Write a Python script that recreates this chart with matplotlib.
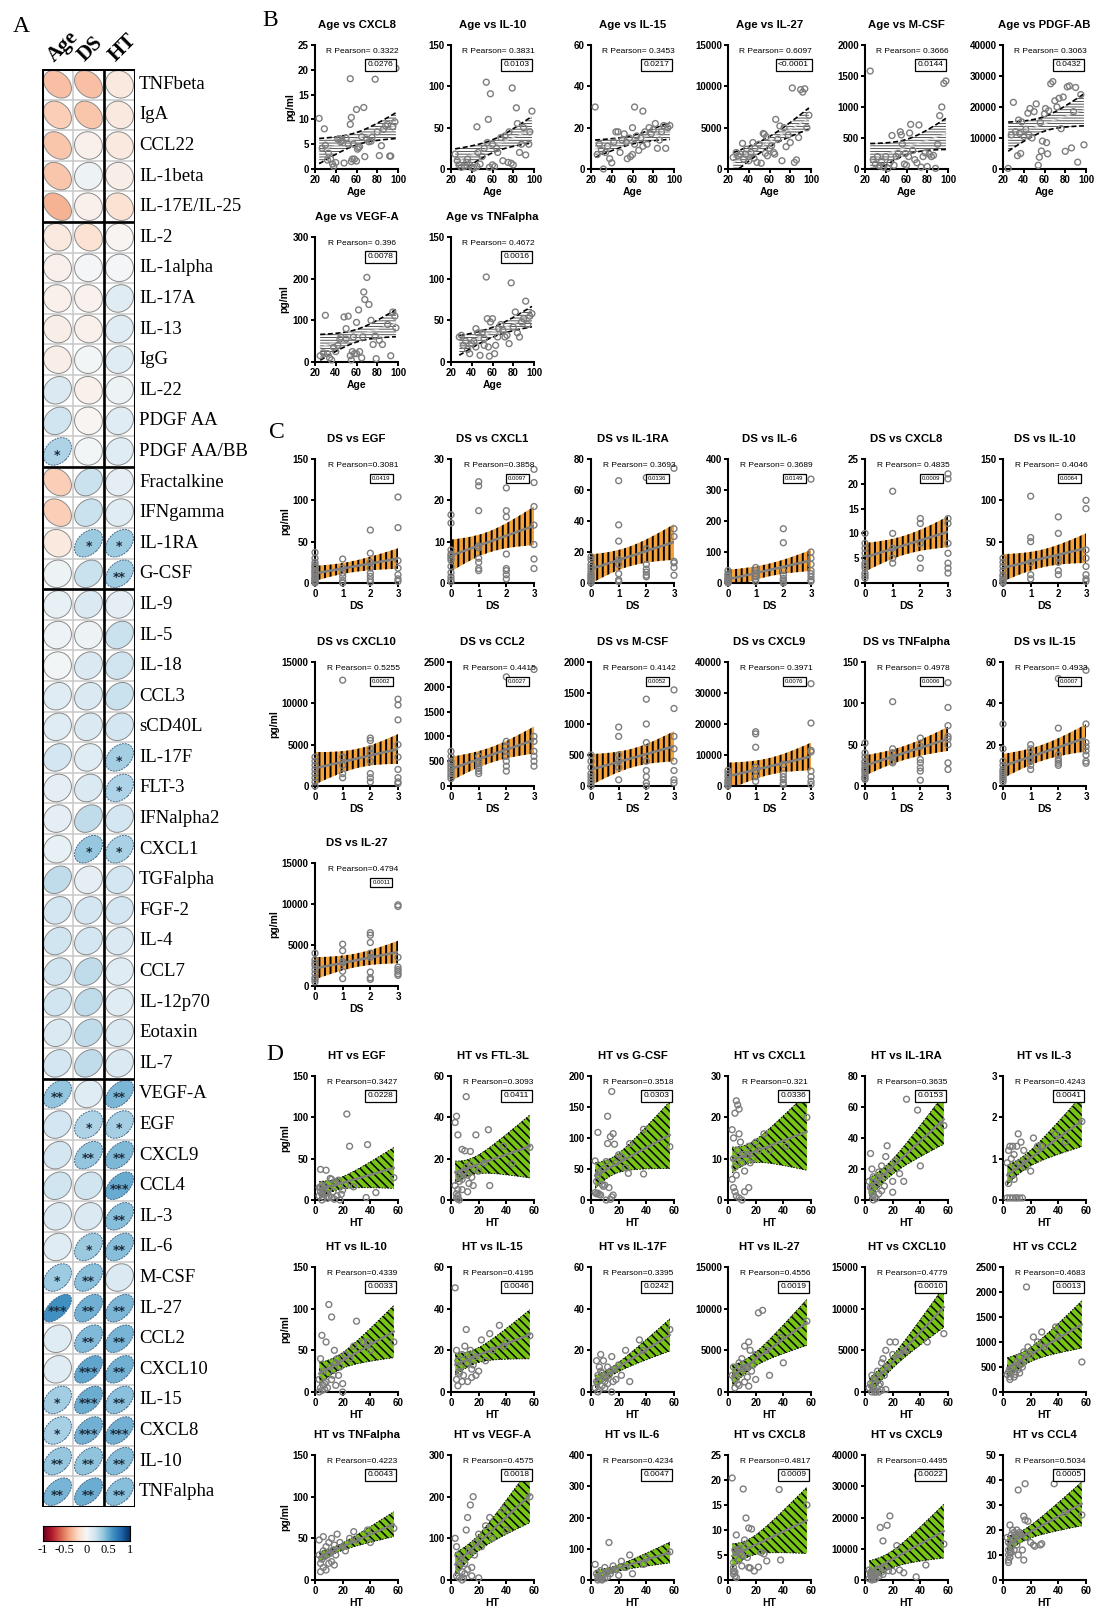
import numpy as np
import matplotlib
matplotlib.use("Agg")
import matplotlib.pyplot as plt
from matplotlib.patches import Ellipse
from matplotlib.colors import Normalize

W, H = 1094, 1609
SANS = "Liberation Sans"
SERIF = "Liberation Serif"

# ------------------------------------------------------------
# panel A : correlation matrix
# ------------------------------------------------------------
cytokines = ["TNFbeta", "IgA", "CCL22", "IL-1beta", "IL-17E/IL-25",
             "IL-2", "IL-1alpha", "IL-17A", "IL-13", "IgG", "IL-22", "PDGF AA", "PDGF AA/BB",
             "Fractalkine", "IFNgamma", "IL-1RA", "G-CSF",
             "IL-9", "IL-5", "IL-18", "CCL3", "sCD40L", "IL-17F", "FLT-3", "IFNalpha2",
             "CXCL1", "TGFalpha", "FGF-2", "IL-4", "CCL7", "IL-12p70", "Eotaxin", "IL-7",
             "VEGF-A", "EGF", "CXCL9", "CCL4", "IL-3", "IL-6", "M-CSF", "IL-27", "CCL2",
             "CXCL10", "IL-15", "CXCL8", "IL-10", "TNFalpha"]
matrix_cols = ["Age", "DS", "HT"]

r_age = [-0.30, -0.25, -0.28, -0.28, -0.35,
         -0.10, -0.05, -0.05, -0.07, -0.07, 0.15, 0.20, 0.3063,
         -0.25, -0.25, -0.10, 0.05,
         0.08, 0.06, 0.03, 0.12, 0.12, 0.18, 0.10, 0.10,
         0.08, 0.25, 0.18, 0.20, 0.20, 0.20, 0.15, 0.18,
         0.396, 0.18, 0.18, 0.20, 0.15, 0.12, 0.3666, 0.6097, 0.12,
         0.12, 0.3453, 0.3322, 0.3831, 0.4672]
r_ds = [-0.30, -0.28, -0.05, 0.05, -0.05,
        -0.15, 0.02, -0.04, -0.05, 0.03, -0.05, -0.02, 0.03,
        0.22, 0.22, 0.3693, 0.22,
        0.15, 0.05, 0.15, 0.15, 0.15, 0.12, 0.15, 0.25,
        0.3858, 0.10, 0.18, 0.18, 0.25, 0.25, 0.25, 0.25,
        0.12, 0.3081, 0.3971, 0.20, 0.15, 0.3689, 0.4142, 0.4794, 0.4415,
        0.5255, 0.4933, 0.4835, 0.4046, 0.4978]
r_ht = [-0.10, -0.10, -0.10, -0.07, -0.15,
        -0.02, 0.02, 0.12, 0.12, 0.12, 0.05, 0.12, 0.12,
        0.10, 0.12, 0.3635, 0.3518,
        0.10, 0.22, 0.20, 0.22, 0.18, 0.3395, 0.3093, 0.18,
        0.321, 0.18, 0.18, 0.15, 0.12, 0.12, 0.15, 0.15,
        0.4575, 0.3427, 0.4495, 0.5034, 0.4243, 0.4234, 0.15, 0.4556, 0.4683,
        0.4779, 0.4195, 0.4817, 0.4339, 0.4223]

stars_age = {"PDGF AA/BB": "*", "VEGF-A": "**", "M-CSF": "*", "IL-27": "***",
             "IL-15": "*", "CXCL8": "*", "IL-10": "**", "TNFalpha": "**"}
stars_ds = {"IL-1RA": "*", "CXCL1": "*", "EGF": "*", "CXCL9": "**", "IL-6": "*",
            "M-CSF": "**", "IL-27": "**", "CCL2": "**", "CXCL10": "***", "IL-15": "***",
            "CXCL8": "***", "IL-10": "**", "TNFalpha": "**"}
stars_ht = {"IL-1RA": "*", "G-CSF": "**", "IL-17F": "*", "FLT-3": "*", "CXCL1": "*",
            "VEGF-A": "**", "EGF": "*", "CXCL9": "**", "CCL4": "***", "IL-3": "**",
            "IL-6": "**", "IL-27": "**", "CCL2": "**", "CXCL10": "**", "IL-15": "**",
            "CXCL8": "***", "IL-10": "**", "TNFalpha": "**"}
group_breaks = [5, 13, 17, 33]
cbar_ticks = [-1, -0.5, 0, 0.5, 1]

# ------------------------------------------------------------
# panel B : age (x) vs concentration (y)
# ------------------------------------------------------------
age_cxcl8 = [(24, 10.2), (29, 8.1), (54, 18.2), (78, 18.1), (55, 10.4), (54, 9.0), (60, 12.0),
             (67, 12.4), (30, 4.8), (33, 3.2), (35, 2.0), (37, 1.0), (38, 0.5), (40, 1.3),
             (42, 6.0), (45, 5.5), (48, 1.2), (50, 6.2), (52, 5.0), (55, 1.5), (56, 2.0),
             (58, 2.0), (60, 1.6), (61, 4.0), (63, 4.5), (65, 6.5), (68, 2.5), (70, 6.0),
             (72, 5.5), (75, 6.4), (80, 7.5), (82, 2.7), (84, 4.7), (86, 8.0), (90, 9.0),
             (92, 2.6), (93, 2.6), (95, 8.5), (97, 9.5), (98, 20.3), (27, 4.2), (32, 1.8),
             (44, 6.1), (46, 5.8), (57, 5.0), (62, 4.3), (74, 5.6), (88, 8.7)]
age_il10 = [(24, 18), (45, 51), (54, 105), (56, 60), (58, 91), (79, 98), (83, 74), (98, 70),
            (84, 55), (55, 32), (60, 30), (65, 20), (70, 10), (75, 8), (78, 7), (80, 5),
            (86, 20), (92, 17), (95, 30), (28, 5), (30, 2), (33, 3), (35, 8), (38, 5), (40, 2),
            (42, 1), (45, 3), (48, 6), (50, 15), (52, 25), (57, 2), (60, 5), (62, 3), (64, 25),
            (68, 38), (72, 40), (76, 45), (88, 30), (90, 50), (96, 45), (26, 10), (36, 12),
            (46, 20)]
age_il15 = [(24, 30), (62, 30), (70, 28), (60, 20), (30, 9), (32, 0), (34, 8), (36, 11),
            (38, 5), (40, 3), (42, 13), (44, 18), (46, 18), (48, 8), (50, 14), (52, 17),
            (54, 13), (55, 5), (57, 15), (58, 6), (60, 7), (62, 12), (64, 16), (66, 9),
            (68, 15), (70, 11), (72, 18), (74, 12), (76, 20), (78, 17), (80, 19), (82, 22),
            (84, 10), (86, 14), (88, 18), (90, 21), (92, 10), (94, 20), (96, 21), (28, 12),
            (26, 7)]
age_il27 = [(25, 1400), (28, 2000), (30, 1600), (32, 1800), (34, 3100), (35, 1200),
            (37, 1800), (38, 2400), (40, 1000), (42, 2000), (44, 3200), (46, 2500), (48, 800),
            (50, 3000), (52, 700), (54, 4300), (55, 4200), (56, 1900), (57, 3900), (58, 1600),
            (60, 2500), (62, 2800), (64, 2000), (65, 1800), (66, 6000), (68, 3600), (70, 5200),
            (72, 1000), (74, 5000), (76, 2700), (78, 4100), (80, 3200), (82, 9800), (84, 800),
            (86, 1100), (88, 3800), (90, 9600), (92, 9300), (94, 9700), (96, 5000), (98, 6500),
            (45, 1300)]
age_mcsf = [(25, 1580), (96, 1380), (98, 1420), (94, 1000), (92, 860), (28, 150), (30, 80),
            (32, 200), (34, 50), (36, 120), (38, 30), (40, 200), (42, 10), (44, 100), (46, 540),
            (48, 60), (50, 200), (52, 250), (54, 600), (55, 550), (56, 400), (58, 80), (60, 60),
            (62, 200), (64, 720), (66, 300), (68, 150), (70, 100), (72, 710), (74, 30),
            (76, 200), (78, 260), (80, 40), (82, 240), (84, 200), (86, 220), (88, 10),
            (90, 400), (59, 250), (63, 580)]
age_pdgfab = [(25, 200), (28, 11000), (30, 21500), (32, 12000), (34, 4300), (35, 15800),
              (37, 5000), (38, 15200), (40, 10500), (42, 12800), (44, 18000), (46, 19500),
              (48, 10000), (50, 18500), (52, 21000), (54, 1200), (55, 3800), (56, 15000),
              (57, 5800), (58, 9000), (60, 17800), (61, 19500), (62, 8500), (63, 4900),
              (64, 18800), (66, 27500), (68, 28200), (70, 22000), (72, 20000), (74, 22800),
              (76, 13000), (78, 23200), (80, 5700), (82, 26500), (84, 26800), (86, 6800),
              (88, 18500), (90, 26300), (92, 2200), (95, 24000), (98, 7800), (45, 11000),
              (36, 11500)]
age_vegfa = [(25, 15), (28, 22), (30, 112), (32, 20), (34, 10), (36, 5), (38, 35), (40, 25),
             (42, 40), (45, 60), (48, 108), (50, 80), (52, 110), (54, 15), (55, 5), (56, 25),
             (57, 60), (58, 20), (60, 95), (62, 125), (63, 25), (65, 10), (66, 60), (67, 168),
             (68, 150), (70, 203), (72, 138), (74, 100), (76, 42), (78, 62), (79, 8), (82, 52),
             (85, 42), (90, 90), (93, 15), (95, 120), (97, 110), (98, 82), (44, 55), (50, 55),
             (60, 20)]
age_tnfa = [(28, 30), (30, 32), (32, 20), (34, 25), (36, 15), (38, 10), (40, 22), (42, 25),
            (44, 40), (46, 35), (48, 8), (50, 35), (52, 28), (54, 102), (55, 52), (56, 18),
            (57, 7), (58, 48), (60, 52), (62, 10), (63, 20), (65, 30), (66, 40), (68, 45),
            (70, 38), (72, 30), (74, 32), (76, 22), (78, 95), (80, 42), (82, 60), (84, 35),
            (86, 30), (88, 48), (90, 52), (92, 73), (94, 45), (96, 55), (98, 58), (44, 18),
            (52, 20)]

# ------------------------------------------------------------
# panel C : values listed per DS level 0, 1, 2, 3
# ------------------------------------------------------------
ds_egf = [[37, 30, 25, 20, 18, 15, 12, 10, 8, 6, 5, 3, 2, 1, 0, 22, 14],
          [29, 18, 12, 8, 3, 0], [64, 36, 25, 18, 12, 8, 4, 1], [104, 67, 27, 18, 10, 5, 2]]
ds_cxcl1 = [[16.5, 14.5, 8, 7, 6, 4, 2.5, 1.5, 0.8, 0.3, 6.5, 5.5],
            [24.5, 23.5, 17.5, 9, 8.5, 6, 5, 3.5, 3], [23, 17.5, 16, 7, 3.5, 3, 2, 1],
            [27.5, 24.3, 18.5, 14, 9.3, 5.8, 3.5]]
ds_il1ra = [[17, 15, 12, 10, 8, 6, 5, 4, 3, 2, 1, 0], [66, 37.5, 27, 15, 12, 6, 2, 1],
            [68, 22, 12, 9, 7, 5, 4], [74, 35, 30, 14, 13, 10, 5]]
ds_il6 = [[40, 30, 25, 20, 15, 12, 10, 8, 5, 3, 2, 0], [50, 40, 30, 20, 12, 5],
          [175, 130, 40, 25, 15, 10, 5, 0], [335, 100, 80, 60, 40, 30, 20, 10, 5]]
ds_cxcl8 = [[10, 8, 7, 6, 5, 4, 3.5, 3, 2, 1.5, 1], [18.5, 10, 7, 5, 4],
            [13, 12, 8, 5, 3], [22, 21, 13, 12, 8, 6, 4, 3, 2]]
ds_il10 = [[30, 25, 20, 15, 10, 8, 5, 3, 2, 0], [105, 55, 50, 25, 10, 5],
           [80, 60, 30, 25, 15, 10], [100, 90, 40, 30, 20, 10, 5, 2]]
ds_cxcl10 = [[3500, 3000, 2500, 2000, 1500, 1000, 500, 0], [12800, 3500, 2500, 1500, 1000],
             [5800, 5500, 4500, 4000, 3000, 1500, 1000, 500],
             [10500, 9800, 8000, 5000, 3500, 2000, 1000, 500, 300]]
ds_ccl2 = [[700, 600, 500, 450, 400, 350, 300, 250, 200, 150],
           [600, 500, 450, 400, 350, 300, 250], [2200, 900, 800, 700, 600, 500, 400, 300],
           [2350, 1000, 900, 700, 600, 500, 400]]
ds_mcsf = [[500, 400, 300, 200, 150, 100, 50, 0], [950, 800, 500, 400, 300, 100],
           [1400, 1000, 700, 400, 250, 150, 50, 0], [1550, 1250, 800, 600, 400, 250, 100, 50]]
ds_cxcl9 = [[5000, 4000, 3000, 2000, 1500, 1000, 500, 0],
            [17500, 16800, 12500, 6000, 5000, 3000, 1500], [7000, 4000, 3000, 2000, 1000, 500],
            [33000, 20300, 11500, 11000, 4800, 3000, 1500, 500]]
ds_tnfa = [[52, 40, 35, 30, 28, 25, 22, 20, 18, 15, 12, 10, 8], [102, 45, 40, 35, 30, 28],
           [58, 48, 32, 28, 22, 18, 7], [125, 95, 73, 60, 57, 50, 28, 20]]
ds_il15 = [[30, 18, 12, 10, 8, 7, 6, 5, 4, 3, 2], [20, 18, 15, 13, 12, 10, 8],
           [52, 28, 15, 13, 12, 11, 10], [56, 30, 21, 19, 17, 15, 12, 11]]
ds_il27 = [[4000, 3200, 2800, 2500, 2000, 1500, 1000, 800, 500],
           [5100, 4300, 3000, 2800, 1800, 900], [6500, 6200, 5300, 4000, 3500, 1700, 1000, 800],
           [9900, 9700, 3500, 2300, 2000, 1800, 1500, 1300]]

# ------------------------------------------------------------
# panel D : HT (x) vs concentration (y)
# ------------------------------------------------------------
ht_egf = [(4, 37), (8, 36), (23, 104), (25, 65), (38, 67), (57, 27), (37, 3), (44, 9), (3, 5),
          (4, 10), (4, 15), (5, 18), (5, 7), (6, 12), (6, 3), (7, 17), (8, 8), (9, 2), (10, 14),
          (11, 26), (12, 25), (13, 10), (14, 20), (15, 22), (16, 5), (17, 24), (18, 0), (19, 7),
          (20, 12), (22, 18), (28, 16), (5, 0), (3, 15), (12, 3), (14, 1), (10, 4)]
ht_ftl3l = [(3, 37.5), (4, 40.5), (5, 31.5), (11, 50), (8, 24.5), (10, 23.8), (14, 23.5),
            (18, 31.5), (27, 34), (28, 7), (44, 17.5), (57, 25.5), (3, 7), (4, 3), (4, 1),
            (5, 2), (5, 5), (6, 9), (6, 12), (7, 11), (8, 5), (9, 13), (10, 14), (11, 16),
            (12, 4), (13, 8), (14, 17), (15, 11), (16, 7), (17, 15), (20, 14), (24, 18),
            (38, 26), (6, 0), (5, 0.5), (8, 10), (12, 12)]
ht_gcsf = [(3, 63), (5, 109), (12, 135), (15, 175), (14, 102), (16, 107), (12, 91), (17, 90),
           (27, 43), (38, 114), (38, 42), (57, 86), (3, 12), (4, 10), (5, 11), (6, 9), (7, 8),
           (8, 25), (9, 22), (10, 24), (11, 62), (13, 20), (15, 5), (16, 8), (14, 1), (11, 0),
           (20, 73), (22, 70), (25, 52), (28, 91), (18, 60), (5, 40), (4, 30), (6, 45), (9, 50)]
ht_cxcl1 = [(3, 17), (4, 15), (5, 21), (6, 24), (7, 23), (8, 22), (4, 10), (5, 8), (6, 6),
            (7, 12), (3, 5), (4, 3), (5, 2), (6, 1), (8, 0.5), (9, 14), (10, 9), (11, 11),
            (12, 7), (14, 11), (15, 13), (16, 9), (18, 10), (20, 14), (22, 12), (26, 16),
            (30, 12), (15, 3), (12, 2), (10, 0), (42, 13), (57, 20), (8, 16)]
ht_il1ra = [(4, 30), (5, 20), (6, 15), (3, 12), (4, 8), (5, 5), (6, 3), (7, 2), (8, 10),
            (9, 13), (10, 18), (12, 22), (14, 15), (15, 28), (16, 35), (18, 20), (20, 12),
            (22, 25), (25, 17), (28, 12), (30, 65), (38, 58), (40, 22), (57, 48), (10, 4),
            (12, 6), (6, 0), (14, 9), (8, 1), (20, 5)]
ht_il3 = [(3, 0.9), (4, 1.2), (5, 1.3), (6, 1.0), (7, 1.3), (8, 1.1), (9, 0.8), (10, 1.3),
          (3, 0.05), (5, 0.05), (7, 0.05), (9, 0.05), (10, 0.05), (12, 0.05), (14, 0.05),
          (4, 0.4), (6, 0.6), (8, 0.5), (11, 1.6), (13, 1.4), (15, 1.2), (17, 1.0), (20, 0.7),
          (22, 1.5), (25, 1.3), (28, 1.3), (38, 1.6), (45, 1.4), (57, 1.9), (12, 0.9), (16, 0.8)]
ht_il10 = [(3, 15), (4, 40), (5, 68), (6, 25), (7, 10), (8, 60), (9, 5), (10, 105), (11, 30),
           (12, 90), (13, 20), (14, 50), (15, 35), (16, 40), (17, 20), (18, 30), (20, 10),
           (22, 45), (25, 40), (28, 55), (38, 60), (40, 50), (57, 60), (3, 0), (4, 5), (5, 2),
           (6, 8), (7, 3), (8, 12), (12, 15), (15, 8), (20, 0), (30, 85), (35, 60)]
ht_il15 = [(3, 50), (4, 20), (5, 15), (6, 10), (7, 12), (8, 18), (9, 8), (10, 22), (11, 30),
           (12, 14), (13, 16), (14, 20), (15, 11), (16, 13), (18, 17), (20, 10), (22, 25),
           (25, 15), (28, 28), (30, 20), (35, 32), (38, 22), (40, 24), (57, 27), (4, 6),
           (5, 3), (6, 9), (8, 5), (12, 5), (15, 7), (18, 8)]
ht_il17f = [(3, 2), (4, 5), (5, 8), (6, 12), (7, 10), (8, 9), (9, 15), (10, 5), (11, 7),
            (12, 12), (13, 8), (14, 10), (15, 17), (16, 5), (17, 11), (18, 6), (20, 13),
            (22, 8), (25, 20), (28, 5), (35, 25), (38, 20), (57, 30), (5, 0), (6, 1), (8, 3),
            (10, 2), (12, 4), (15, 0), (4, 15), (7, 18)]
ht_il27 = [(3, 2000), (4, 3000), (5, 1500), (6, 2500), (7, 1000), (8, 3500), (9, 2200),
           (10, 4000), (11, 2800), (12, 5500), (13, 3000), (14, 1800), (15, 6000), (16, 5000),
           (17, 2500), (18, 3200), (20, 4500), (22, 9500), (25, 9800), (28, 5000), (30, 2000),
           (38, 6500), (40, 3500), (57, 8500), (5, 500), (8, 800), (12, 1200), (15, 700),
           (20, 1500)]
ht_cxcl10 = [(3, 500), (4, 1000), (5, 2000), (6, 300), (7, 1500), (8, 0), (9, 2500),
             (10, 800), (11, 1000), (12, 3500), (13, 4000), (14, 2000), (15, 5000), (16, 3000),
             (18, 6000), (20, 4500), (22, 6000), (25, 4500), (28, 5000), (30, 5000),
             (38, 12800), (45, 6000), (57, 7000), (5, 0), (7, 0), (10, 0), (12, 200), (15, 300)]
ht_ccl2 = [(3, 350), (4, 400), (5, 300), (6, 450), (7, 500), (8, 400), (9, 350), (10, 600),
           (11, 450), (12, 700), (13, 550), (14, 500), (15, 800), (16, 650), (18, 900),
           (20, 750), (22, 1100), (25, 1000), (28, 1200), (30, 900), (38, 1300), (40, 1100),
           (57, 600), (5, 250), (8, 300), (12, 380), (17, 2100)]
ht_tnfa = [(3, 30), (4, 20), (5, 25), (6, 35), (7, 28), (8, 40), (9, 30), (10, 45), (11, 32),
           (12, 50), (13, 35), (14, 42), (15, 30), (16, 55), (18, 45), (20, 40), (22, 35),
           (25, 50), (28, 58), (30, 48), (38, 60), (40, 45), (57, 62), (4, 10), (6, 15),
           (8, 12), (10, 20), (12, 22), (14, 18), (6, 52), (3, 48)]
ht_vegfa = [(3, 100), (4, 80), (5, 60), (6, 30), (7, 50), (8, 20), (9, 5), (10, 40),
            (11, 120), (12, 150), (13, 70), (14, 180), (15, 30), (16, 200), (17, 60), (18, 90),
            (20, 110), (22, 80), (25, 130), (28, 150), (30, 100), (38, 170), (40, 120),
            (57, 200), (4, 10), (6, 5), (8, 0), (10, 15), (12, 25), (15, 10), (20, 5)]
ht_il6 = [(3, 50), (4, 20), (5, 10), (6, 5), (7, 30), (8, 0), (9, 15), (10, 40), (11, 25),
          (12, 10), (13, 120), (14, 20), (15, 30), (16, 45), (18, 35), (20, 15), (22, 60),
          (25, 40), (28, 80), (30, 20), (38, 50), (40, 70), (57, 90), (5, 0), (7, 2), (10, 5)]
ht_cxcl8 = [(3, 20.4), (11, 18.2), (37, 18.1), (13, 12.4), (15, 10.4), (17, 10.2), (6, 9.0),
            (5, 6.0), (4, 3.5), (4, 2.5), (4, 1.8), (4, 1.2), (5, 1.6), (5, 0.8), (6, 0.5),
            (6, 5.5), (7, 6.0), (8, 6.2), (9, 5.5), (10, 5.0), (12, 6.5), (12, 8.0), (14, 4.5),
            (15, 2.5), (16, 2.4), (19, 1.8), (22, 2.6), (24, 5.5), (26, 5.2), (28, 3.8),
            (38, 4.0), (10, 2.8), (8, 4.0), (57, 15.0)]
ht_cxcl9 = [(38, 33500), (18, 20500), (16, 17500), (11, 16800), (13, 12500), (23, 11000),
            (57, 11500), (44, 4800), (37, 1000), (3, 3200), (4, 2500), (4, 1500), (5, 500),
            (5, 0), (6, 800), (6, 1500), (7, 200), (8, 2000), (9, 3500), (10, 1200), (12, 2500),
            (13, 1800), (15, 4000), (17, 3000), (20, 2800), (25, 3200), (28, 2300), (5, 2000),
            (3, 400), (8, 600)]
ht_ccl4 = [(37, 38.5), (16, 38.5), (11, 36), (15, 25.5), (16, 24), (18, 23.5), (5, 22),
           (3, 17), (4, 15), (4, 12), (4, 10), (4, 8), (4, 7), (5, 9), (5, 11), (6, 13),
           (6, 18), (7, 20), (7, 16), (8, 19), (9, 17), (10, 20), (10, 14), (11, 18), (12, 19),
           (13, 18), (14, 12), (15, 8), (17, 17), (20, 15), (22, 14), (23, 13.5), (27, 14),
           (28, 14.5), (11, 10), (57, 26), (45, 27), (6, 11), (8, 12)]

# (title, data, y ticks, pearson label, p value)
b_panels = [
    ("Age vs CXCL8", age_cxcl8, [0, 5, 10, 15, 20, 25], "R Pearson= 0.3322", "0.0276"),
    ("Age vs IL-10", age_il10, [0, 50, 100, 150], "R Pearson= 0.3831", "0.0103"),
    ("Age vs IL-15", age_il15, [0, 20, 40, 60], "R Pearson= 0.3453", "0.0217"),
    ("Age vs IL-27", age_il27, [0, 5000, 10000, 15000], "R Pearson= 0.6097", "<0.0001"),
    ("Age vs M-CSF", age_mcsf, [0, 500, 1000, 1500, 2000], "R Pearson= 0.3666", "0.0144"),
    ("Age vs PDGF-AB", age_pdgfab, [0, 10000, 20000, 30000, 40000], "R Pearson= 0.3063", "0.0432"),
    ("Age vs VEGF-A", age_vegfa, [0, 100, 200, 300], "R Pearson= 0.396", "0.0078"),
    ("Age vs TNFalpha", age_tnfa, [0, 50, 100, 150], "R Pearson= 0.4672", "0.0016"),
]
c_panels = [
    ("DS vs EGF", ds_egf, [0, 50, 100, 150], "R Pearson=0.3081", "0.0419"),
    ("DS vs CXCL1", ds_cxcl1, [0, 10, 20, 30], "R Pearson=0.3858", "0.0097"),
    ("DS vs IL-1RA", ds_il1ra, [0, 20, 40, 60, 80], "R Pearson= 0.3693", "0.0136"),
    ("DS vs IL-6", ds_il6, [0, 100, 200, 300, 400], "R Pearson= 0.3689", "0.0149"),
    ("DS vs CXCL8", ds_cxcl8, [0, 5, 10, 15, 20, 25], "R Pearson= 0.4835", "0.0009"),
    ("DS vs IL-10", ds_il10, [0, 50, 100, 150], "R Pearson= 0.4046", "0.0064"),
    ("DS vs CXCL10", ds_cxcl10, [0, 5000, 10000, 15000], "R Pearson= 0.5255", "0.0002"),
    ("DS vs CCL2", ds_ccl2, [0, 500, 1000, 1500, 2000, 2500], "R Pearson= 0.4415", "0.0027"),
    ("DS vs M-CSF", ds_mcsf, [0, 500, 1000, 1500, 2000], "R Pearson= 0.4142", "0.0052"),
    ("DS vs CXCL9", ds_cxcl9, [0, 10000, 20000, 30000, 40000], "R Pearson= 0.3971", "0.0076"),
    ("DS vs TNFalpha", ds_tnfa, [0, 50, 100, 150], "R Pearson= 0.4978", "0.0006"),
    ("DS vs IL-15", ds_il15, [0, 20, 40, 60], "R Pearson= 0.4933", "0.0007"),
    ("DS vs IL-27", ds_il27, [0, 5000, 10000, 15000], "R Pearson=0.4794", "0.0011"),
]
d_panels = [
    ("HT vs EGF", ht_egf, [0, 50, 100, 150], "R Pearson=0.3427", "0.0228"),
    ("HT vs FTL-3L", ht_ftl3l, [0, 20, 40, 60], "R Pearson=0.3093", "0.0411"),
    ("HT vs G-CSF", ht_gcsf, [0, 50, 100, 150, 200], "R Pearson=0.3518", "0.0303"),
    ("HT vs CXCL1", ht_cxcl1, [0, 10, 20, 30], "R Pearson=0.321", "0.0336"),
    ("HT vs IL-1RA", ht_il1ra, [0, 20, 40, 60, 80], "R Pearson=0.3635", "0.0153"),
    ("HT vs IL-3", ht_il3, [0, 1, 2, 3], "R Pearson=0.4243", "0.0041"),
    ("HT vs IL-10", ht_il10, [0, 50, 100, 150], "R Pearson=0.4339", "0.0033"),
    ("HT vs IL-15", ht_il15, [0, 20, 40, 60], "R Pearson=0.4195", "0.0046"),
    ("HT vs IL-17F", ht_il17f, [0, 20, 40, 60], "R Pearson=0.3395", "0.0242"),
    ("HT vs IL-27", ht_il27, [0, 5000, 10000, 15000], "R Pearson=0.4556", "0.0019"),
    ("HT vs CXCL10", ht_cxcl10, [0, 5000, 10000, 15000], "R Pearson=0.4779", "0.0010"),
    ("HT vs CCL2", ht_ccl2, [0, 500, 1000, 1500, 2000, 2500], "R Pearson=0.4683", "0.0013"),
    ("HT vs TNFalpha", ht_tnfa, [0, 50, 100, 150], "R Pearson=0.4223", "0.0043"),
    ("HT vs VEGF-A", ht_vegfa, [0, 100, 200, 300], "R Pearson=0.4575", "0.0018"),
    ("HT vs IL-6", ht_il6, [0, 100, 200, 300, 400], "R Pearson=0.4234", "0.0047"),
    ("HT vs CXCL8", ht_cxcl8, [0, 5, 10, 15, 20, 25], "R Pearson=0.4817", "0.0009"),
    ("HT vs CXCL9", ht_cxcl9, [0, 10000, 20000, 30000, 40000], "R Pearson=0.4495", "0.0022"),
    ("HT vs CCL4", ht_ccl4, [0, 10, 20, 30, 40, 50], "R Pearson=0.5034", "0.0005"),
]

# grid of small plots, in pixels
COL_LEFT = [315, 451, 591, 728, 865, 1003]
COL_W = 83
B_ROWS = [(45, 169), (237, 362)]
C_ROWS = [(459, 583), (662, 786), (863, 986)]
D_ROWS = [(1076, 1200), (1267, 1392), (1455, 1580)]


def px_axes(fig, left, top, right, bottom):
    return fig.add_axes([left / W, 1 - bottom / H, (right - left) / W, (bottom - top) / H])


def px_text(fig, x, y, s, **kw):
    return fig.text(x / W, 1 - y / H, s, **kw)


def ci_band(x, y, xs):
    x = np.asarray(x, float)
    y = np.asarray(y, float)
    n = len(x)
    slope, icpt = np.polyfit(x, y, 1)
    s = np.sqrt(np.sum((y - (icpt + slope * x)) ** 2) / (n - 2))
    sxx = np.sum((x - x.mean()) ** 2)
    fit = icpt + slope * xs
    half = 2.02 * s * np.sqrt(1.0 / n + (xs - x.mean()) ** 2 / sxx)
    return fit, fit - half, fit + half


def small_plot(fig, col, row, title, x, y, yticks, xticks, xlabel, rlab, plab, kind, first):
    left = COL_LEFT[col]
    top, bottom = row
    ax = px_axes(fig, left, top, left + COL_W, bottom)
    ax.set_xlim(xticks[0], xticks[-1])
    ax.set_ylim(0, yticks[-1])

    xs = np.linspace(min(x), max(x), 120)
    fit, lo, hi = ci_band(x, y, xs)
    if kind == "B":
        with plt.rc_context({"hatch.linewidth": 0.6}):
            ax.fill_between(xs, lo, hi, facecolor="white", edgecolor="#3a3a3a",
                            hatch="------", linewidth=0, zorder=1)
        ax.plot(xs, fit, color="#d0d0d0", lw=1.0, zorder=2)
        for edge in (lo, hi):
            ax.plot(xs, edge, color="black", lw=1.2, dashes=(3, 1.6), zorder=2)
    elif kind == "C":
        with plt.rc_context({"hatch.linewidth": 1.4}):
            ax.fill_between(xs, lo, hi, facecolor="#f6a23a", edgecolor="black",
                            hatch="|||", linewidth=0, zorder=1)
        ax.plot(xs, fit, color="#808080", lw=1.8, zorder=2)
    else:
        with plt.rc_context({"hatch.linewidth": 1.1}):
            ax.fill_between(xs, lo, hi, facecolor="#78c414", edgecolor="black",
                            hatch="\\\\\\\\", linewidth=0, zorder=1)
        for edge in (lo, hi):
            ax.plot(xs, edge, color="black", lw=0.6, dashes=(2, 1.5), zorder=2)
        ax.plot(xs, fit, color="#808080", lw=1.6, zorder=2)

    ax.scatter(x, y, s=18, facecolors="none", edgecolors="#7d7d7d", linewidths=1.0,
               zorder=3, clip_on=False)

    for side in ("top", "right"):
        ax.spines[side].set_visible(False)
    for side in ("left", "bottom"):
        ax.spines[side].set_linewidth(1.5)
    ax.set_xticks(xticks)
    ax.set_yticks(yticks)
    ax.tick_params(direction="out", length=3, width=1.4, pad=1.5, labelsize=7)
    for lab in ax.get_xticklabels() + ax.get_yticklabels():
        lab.set_fontweight("bold")
        lab.set_family(SANS)

    px_text(fig, left + COL_W / 2, top - 20, title, ha="center", va="center",
            fontsize=8.2, fontweight="bold", family=SANS)
    px_text(fig, left + COL_W / 2, bottom + 23, xlabel, ha="center", va="center",
            fontsize=7.5, fontweight="bold", family=SANS)
    if first:
        ax.set_ylabel("pg/ml", fontsize=7.5, fontweight="bold", family=SANS, labelpad=2)

    if kind == "C":
        ax.text(0.58, 0.95, rlab, transform=ax.transAxes, ha="center", va="center",
                fontsize=6, family=SANS)
        ax.text(0.8, 0.84, plab, transform=ax.transAxes, ha="center", va="center",
                fontsize=4.3, family=SANS,
                bbox=dict(boxstyle="square,pad=0.35", fc="white", ec="black", lw=0.9))
    else:
        ax.text(0.57, 0.95, rlab, transform=ax.transAxes, ha="center", va="center",
                fontsize=6, family=SANS)
        ax.text(0.79, 0.84, plab, transform=ax.transAxes, ha="center", va="center",
                fontsize=6, family=SANS,
                bbox=dict(boxstyle="square,pad=0.3", fc="white", ec="black", lw=0.9))
    return ax


fig = plt.figure(figsize=(W / 100, H / 100), dpi=100)

# ---- correlation matrix ----
axm = px_axes(fig, 42, 69, 135, 1507)
nrow = len(cytokines)
axm.set_xlim(0, 3)
axm.set_ylim(0, nrow)
axm.axis("off")
norm = Normalize(-1, 1)
cmap = plt.get_cmap("RdBu")
for k in range(4):
    axm.plot([k, k], [0, nrow], color="#c8c8c8", lw=1.1, zorder=1)
for k in range(nrow + 1):
    axm.plot([0, 3], [k, k], color="#c8c8c8", lw=1.1, zorder=1)
for j, (rvals, stars) in enumerate([(r_age, stars_age), (r_ds, stars_ds), (r_ht, stars_ht)]):
    for i, name in enumerate(cytokines):
        r = rvals[i]
        cy = nrow - i - 0.5
        cx = j + 0.5
        st = stars.get(name, "")
        e = Ellipse((cx, cy), 0.9 * np.sqrt(1 + r), 0.9 * np.sqrt(1 - r), angle=45,
                    facecolor=cmap(norm(r)), edgecolor="#8a8a8a" if not st else "#4a6a88",
                    lw=0.7, ls="-" if not st else (0, (2, 1)), zorder=2)
        axm.add_patch(e)
        if st:
            axm.text(cx, cy - 0.12, st, ha="center", va="center", fontsize=9,
                     fontweight="bold", color="#1c2a38", zorder=3)
for yb in [nrow - g for g in group_breaks]:
    axm.plot([0, 3], [yb, yb], color="black", lw=1.9, zorder=4)
axm.plot([2, 2], [0, nrow], color="black", lw=1.9, zorder=4)
axm.plot([0, 3, 3, 0, 0], [0, 0, nrow, nrow, 0], color="black", lw=2.2, zorder=4,
         solid_joinstyle="miter")

for i, name in enumerate(cytokines):
    px_text(fig, 139, 69 + (i + 0.5) * (1438 / nrow), name, ha="left", va="center",
            fontsize=13.5, family=SERIF)
for j, lab in enumerate(matrix_cols):
    fig.text((42 + 31 * j + 12) / W, 1 - 62 / H, lab, rotation=45, rotation_mode="anchor",
             ha="left", va="baseline", fontsize=15, fontweight="bold", family=SERIF)

# colour key
axc = px_axes(fig, 43, 1526, 130, 1541)
axc.imshow(np.linspace(-1, 1, 256)[None, :], aspect="auto", cmap=cmap, norm=norm,
           extent=(-1, 1, 0, 1))
axc.set_yticks([])
axc.set_xticks(cbar_ticks)
axc.set_xticklabels(["-1", "-0.5", "0", "0.5", "1"], family=SERIF, fontsize=9)
axc.tick_params(length=0, pad=2)
for sp in axc.spines.values():
    sp.set_linewidth(0.8)

# ---- panel letters ----
for letter, (lx, ly) in {"A": (21, 26), "B": (270, 20), "C": (277, 433), "D": (275, 1054)}.items():
    px_text(fig, lx, ly, letter, ha="center", va="center", fontsize=17, family=SERIF)

# ---- B ----
for k, (title, pts, yt, rl, pl) in enumerate(b_panels):
    row, col = divmod(k, 6)
    x, y = zip(*pts)
    small_plot(fig, col, B_ROWS[row], title, x, y, yt, [20, 40, 60, 80, 100], "Age",
               rl, pl, "B", col == 0)

# ---- C ----
for k, (title, levels, yt, rl, pl) in enumerate(c_panels):
    row, col = divmod(k, 6)
    x = np.concatenate([[lvl] * len(v) for lvl, v in enumerate(levels)])
    y = np.concatenate(levels)
    small_plot(fig, col, C_ROWS[row], title, x, y, yt, [0, 1, 2, 3], "DS",
               rl, pl, "C", col == 0)

# ---- D ----
for k, (title, pts, yt, rl, pl) in enumerate(d_panels):
    row, col = divmod(k, 6)
    x, y = zip(*pts)
    small_plot(fig, col, D_ROWS[row], title, x, y, yt, [0, 20, 40, 60], "HT",
               rl, pl, "D", col == 0)

fig.savefig("out.png", dpi=100)
